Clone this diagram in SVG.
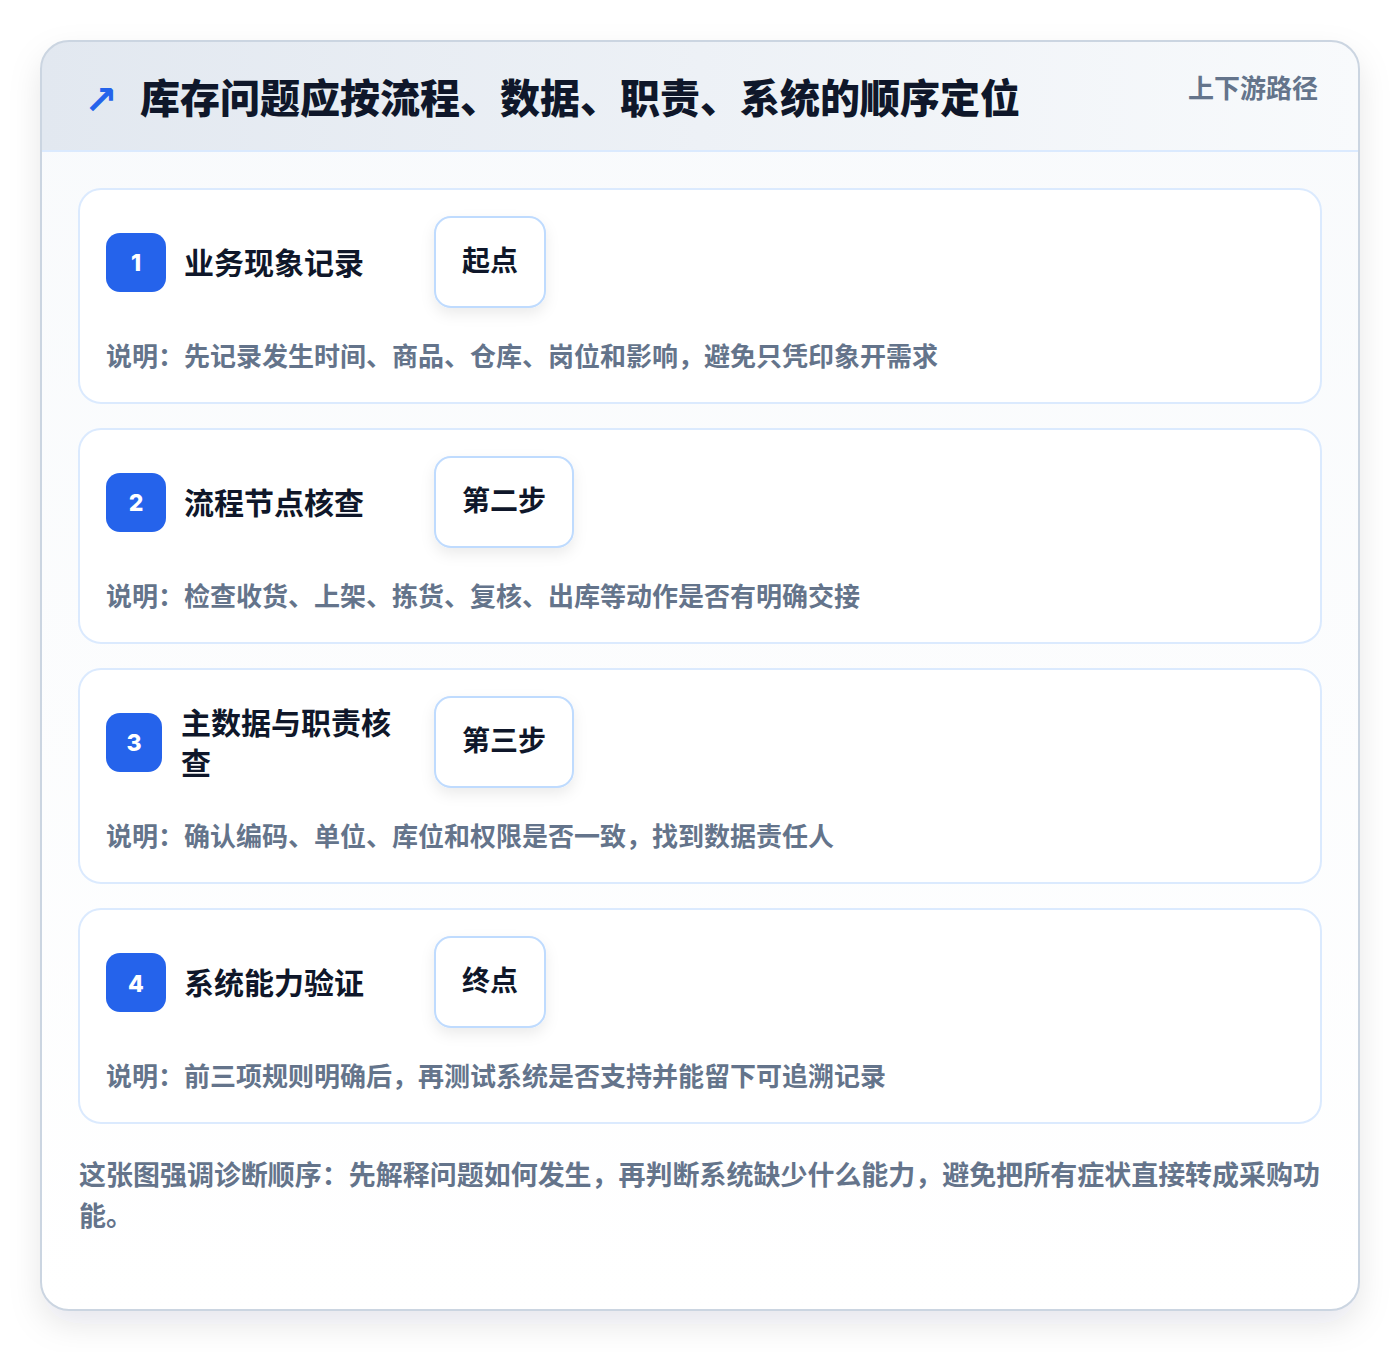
<svg xmlns="http://www.w3.org/2000/svg" width="1400" height="1352" viewBox="0 0 1400 1352">
<defs>
<linearGradient id="hdr" x1="0" y1="0" x2="1" y2="0">
<stop offset="0" stop-color="#e2e8f0"/>
<stop offset="1" stop-color="#f8fafc"/>
</linearGradient>
<linearGradient id="body" x1="0" y1="0" x2="0" y2="1">
<stop offset="0" stop-color="#f8fafc"/>
<stop offset="1" stop-color="#ffffff"/>
</linearGradient>
<filter id="outerShadow" x="-10%" y="-10%" width="120%" height="120%">
<feDropShadow dx="0" dy="14" stdDeviation="16" flood-color="#0f172a" flood-opacity="0.10"/>
</filter>
<filter id="tagShadow" x="-30%" y="-30%" width="160%" height="170%">
<feDropShadow dx="0" dy="6" stdDeviation="7" flood-color="#0f172a" flood-opacity="0.08"/>
</filter>
<clipPath id="outerClip"><rect x="41" y="41" width="1318" height="1269" rx="28"/></clipPath>
</defs>
<style>
text { font-family: "Noto Sans CJK SC", "Noto Sans", "Liberation Sans", sans-serif; font-weight: 700; }
.card { fill: #ffffff; stroke: #dbeafe; stroke-width: 2; }
.badge { fill: #2563eb; }
.num { fill: #ffffff; font-size: 23px; text-anchor: middle; font-family: "Inter", "Noto Sans", sans-serif; font-weight: 800; }
.ttl { fill: #0f172a; font-size: 30px; }
.tag { fill: #ffffff; stroke: #bfdbfe; stroke-width: 2; }
.tagt { fill: #0f172a; font-size: 28px; }
.desc { fill: #64748b; font-size: 26px; }
</style>
<rect width="1400" height="1352" fill="#ffffff"/>
<g id="frame">
<rect x="41" y="41" width="1318" height="1269" rx="28" fill="#ffffff" filter="url(#outerShadow)"/>
<g clip-path="url(#outerClip)">
<rect x="41" y="41" width="1318" height="1269" fill="url(#body)"/>
<rect x="41" y="41" width="1318" height="110" fill="url(#hdr)"/>
<line x1="41" y1="151" x2="1359" y2="151" stroke="#dbeafe" stroke-width="2"/>
</g>
<rect x="41" y="41" width="1318" height="1269" rx="28" fill="none" stroke="#cbd5e1" stroke-width="2"/>
</g>
<g id="header">
<text x="84" y="114" font-size="40" fill="#2563eb" style="font-family:'DejaVu Sans',sans-serif;font-weight:700">↗</text>
<text x="140" y="113" font-size="40" fill="#0f172a" style="font-weight:900">库存问题应按流程、数据、职责、系统的顺序定位</text>
<text x="1318" y="98" font-size="26" fill="#64748b" text-anchor="end">上下游路径</text>
</g>
<g id="node1">
<rect class="card" x="79" y="189" width="1242" height="214" rx="22"/>
<rect class="badge" x="106" y="233" width="60" height="59" rx="14"/>
<text class="num" x="136" y="271">1</text>
<text class="ttl" x="184" y="274">业务现象记录</text>
<rect class="tag" x="435" y="217" width="110" height="90" rx="16" filter="url(#tagShadow)"/>
<text class="tagt" x="462" y="271">起点</text>
<text class="desc" x="106" y="366">说明：先记录发生时间、商品、仓库、岗位和影响，避免只凭印象开需求</text>
</g>
<g id="node2">
<rect class="card" x="79" y="429" width="1242" height="214" rx="22"/>
<rect class="badge" x="106" y="473" width="60" height="59" rx="14"/>
<text class="num" x="136" y="511">2</text>
<text class="ttl" x="184" y="514">流程节点核查</text>
<rect class="tag" x="435" y="457" width="138" height="90" rx="16" filter="url(#tagShadow)"/>
<text class="tagt" x="462" y="511">第二步</text>
<text class="desc" x="106" y="606">说明：检查收货、上架、拣货、复核、出库等动作是否有明确交接</text>
</g>
<g id="node3">
<rect class="card" x="79" y="669" width="1242" height="214" rx="22"/>
<rect class="badge" x="106" y="713" width="56" height="59" rx="14"/>
<text class="num" x="134" y="751">3</text>
<text class="ttl" x="181" y="734">主数据与职责核</text>
<text class="ttl" x="181" y="774">查</text>
<rect class="tag" x="435" y="697" width="138" height="90" rx="16" filter="url(#tagShadow)"/>
<text class="tagt" x="462" y="751">第三步</text>
<text class="desc" x="106" y="846">说明：确认编码、单位、库位和权限是否一致，找到数据责任人</text>
</g>
<g id="node4">
<rect class="card" x="79" y="909" width="1242" height="214" rx="22"/>
<rect class="badge" x="106" y="953" width="60" height="59" rx="14"/>
<text class="num" x="136" y="992">4</text>
<text class="ttl" x="184" y="994">系统能力验证</text>
<rect class="tag" x="435" y="937" width="110" height="90" rx="16" filter="url(#tagShadow)"/>
<text class="tagt" x="462" y="991">终点</text>
<text class="desc" x="106" y="1086">说明：前三项规则明确后，再测试系统是否支持并能留下可追溯记录</text>
</g>
<g id="connectors"></g>
<g id="footer">
<text x="79" y="1185" font-size="27" fill="#64748b" textLength="1241" lengthAdjust="spacingAndGlyphs">这张图强调诊断顺序：先解释问题如何发生，再判断系统缺少什么能力，避免把所有症状直接转成采购功</text>
<text x="79" y="1226" font-size="27" fill="#64748b">能。</text>
</g>
</svg>
